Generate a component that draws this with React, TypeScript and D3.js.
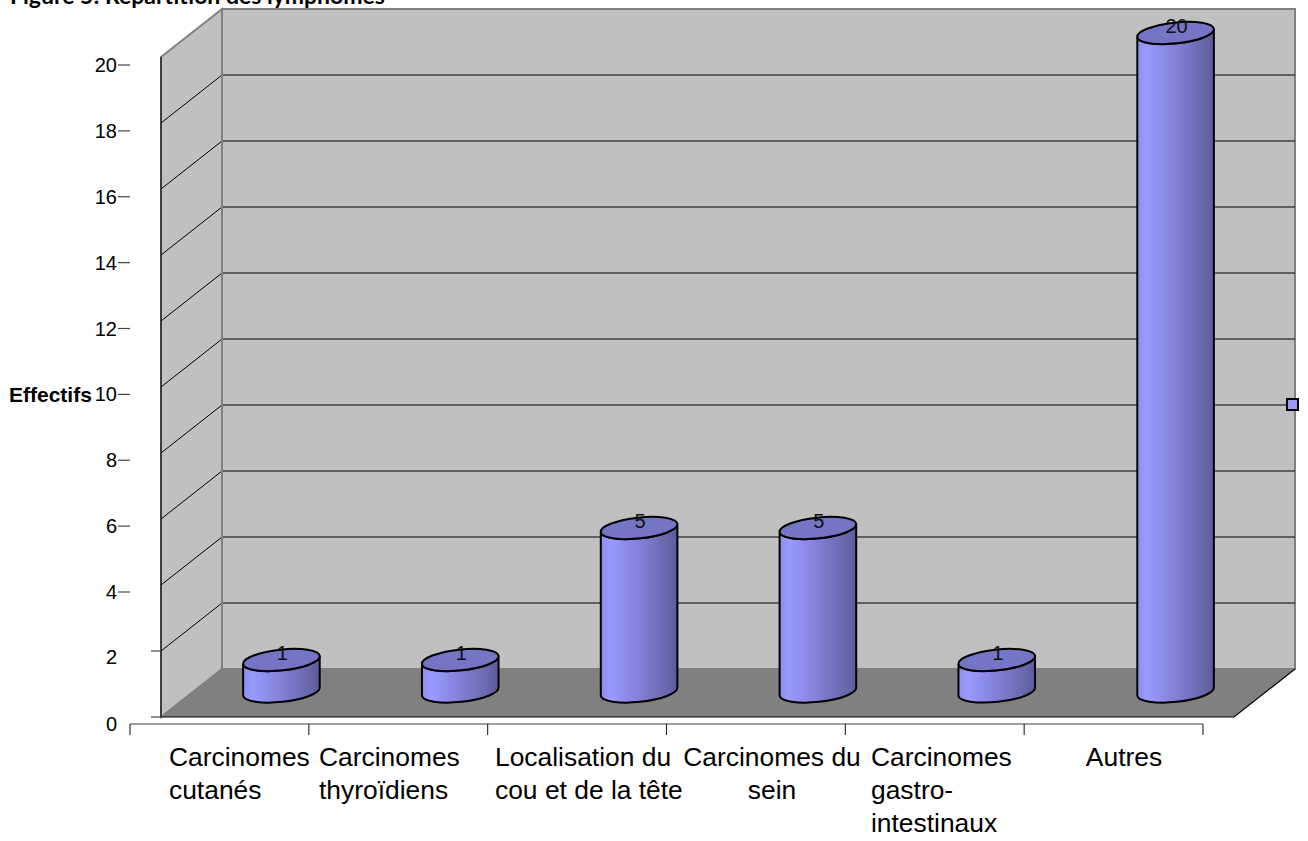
import React from "react";
import * as d3 from "d3";

const categories = ["Carcinomes cutanés", "Carcinomes thyroïdiens", "Localisation du cou et de la tête", "Carcinomes du sein", "Carcinomes gastro-intestinaux", "Autres"];
const counts = [1, 1, 5, 5, 1, 20];
const categoryLines = [
  ["Carcinomes", "cutanés"],
  ["Carcinomes", "thyroïdiens"],
  ["Localisation du", "cou et de la tête"],
  ["Carcinomes du", "sein"],
  ["Carcinomes", "gastro-", "intestinaux"],
  ["Autres"],
];
const yTicks = [0, 2, 4, 6, 8, 10, 12, 14, 16, 18, 20];
const gridValues = [2, 4, 6, 8, 10, 12, 14, 16, 18];
const titleText = "Figure 5: Répartition des lymphomes";
const yAxisTitle = "Effectifs";

// Per-label placement on the category axis
const labelAnchor = ["start", "start", "start", "middle", "start", "middle"];
const labelX = [169, 319, 495, 772, 871, 1124];

const W = 1308;
const H = 841;
const depthX = 61;
const depthY = 48;
const wallLeft = 161 + depthX;
const wallRight = 1295;
const rx = 38.5;
const ry = 10.4;
const tilt = -6;

export default function App() {
  const backY = d3.scaleLinear().domain([0, 20]).range([669, 9]);
  const frontY = (v: number) => backY(v) + depthY;
  const barY = d3.scaleLinear().domain([0, 20]).range([693, 33]);
  const tickY = d3.scaleLinear().domain([0, 2, 4, 20]).range([717, 651, 592, 65]);
  const tickLabelY = d3.scaleLinear().domain([0, 2, 4, 20]).range([724, 657, 592, 65]);
  const x = d3.scaleBand<number>().domain(d3.range(categories.length)).range([130, 1203]);
  const rad = (tilt * Math.PI) / 180;
  const dx = rx * Math.cos(rad);
  const dy = rx * Math.sin(rad);

  const bottomEdge = frontY(0);
  const wallPath = d3.path();
  wallPath.moveTo(wallLeft - depthX, frontY(20));
  wallPath.lineTo(wallLeft, backY(20));
  wallPath.lineTo(wallLeft, backY(0));
  wallPath.lineTo(wallLeft - depthX, bottomEdge);
  wallPath.closePath();

  return (
    <svg width={W} height={H} style={{ position: "absolute", left: 0, top: 0, fontFamily: "'Liberation Sans', Arial, sans-serif" }}>
      <defs>
        <linearGradient id="cyl" x1="0" x2="1" y1="0" y2="0">
          <stop offset="0" stopColor="#8d8dec" />
          <stop offset="0.12" stopColor="#9a9aff" />
          <stop offset="0.45" stopColor="#8484dc" />
          <stop offset="0.8" stopColor="#6c6cb4" />
          <stop offset="1" stopColor="#5c5c9a" />
        </linearGradient>
      </defs>

      <text x={10} y={4} fontFamily="Lato, sans-serif" fontWeight={700} fontSize={23}>{titleText}</text>

      {/* walls and floor */}
      <rect x={wallLeft} y={backY(20)} width={wallRight - wallLeft} height={backY(0) - backY(20)} fill="#c0c0c0" stroke="#808080" strokeWidth={2} />
      <path d={wallPath.toString()} fill="#c0c0c0" stroke="#808080" strokeWidth={2} />
      <path
        d={`M${wallLeft - depthX},${bottomEdge}L${wallLeft},${backY(0)}L${wallRight},${backY(0)}L${wallRight - depthX},${bottomEdge}Z`}
        fill="#808080"
      />
      <path d={`M${wallLeft - depthX},${bottomEdge}L${wallRight - depthX},${bottomEdge}L${wallRight},${backY(0)}`} fill="none" stroke="#000" strokeWidth={1.2} />
      <line x1={wallLeft - depthX} x2={wallLeft - depthX} y1={frontY(20)} y2={bottomEdge} stroke="#222" strokeWidth={1.4} />

      {/* gridlines across both walls */}
      {gridValues.map((v) => (
        <path key={v} d={`M${wallLeft - depthX},${frontY(v)}L${wallLeft},${backY(v)}L${wallRight},${backY(v)}`} fill="none" stroke="#000" strokeWidth={1} />
      ))}
      <line x1={wallLeft} x2={wallLeft} y1={backY(20)} y2={backY(0)} stroke="#808080" strokeWidth={2} />

      {/* value axis */}
      {yTicks.map((v) => {
        const low = v < 4;
        return (
          <g key={v}>
            <line x1={low ? 151 : 118} x2={low ? 161 : 130} y1={tickY(v)} y2={tickY(v)} stroke="#444" strokeWidth={1.2} />
            <text x={117} y={tickLabelY(v)} textAnchor="end" dominantBaseline="central" fontSize={20} fill="#000">{v}</text>
          </g>
        );
      })}
      <text x={9} y={394} dominantBaseline="central" fontSize={21} fontWeight={700}>{yAxisTitle}</text>

      {/* category axis */}
      <line x1={130} x2={1203} y1={724} y2={724} stroke="#808080" strokeWidth={1.6} />
      {d3.range(categories.length + 1).map((i) => {
        const px = i < categories.length ? x(i)! : x(i - 1)! + x.bandwidth();
        return <line key={i} x1={px} x2={px} y1={724} y2={735} stroke="#222" strokeWidth={1.1} />;
      })}
      {categoryLines.map((lines, i) => (
        <text key={i} fontSize={26.4} fill="#000" textAnchor={labelAnchor[i]}>
          {lines.map((s, j) => (
            <tspan key={j} x={labelX[i]} y={765.5 + j * 33}>{s}</tspan>
          ))}
        </text>
      ))}

      {/* cylinders */}
      {counts.map((v, i) => {
        const cx = x(i)! + x.bandwidth() / 2 + depthX + 1;
        const top = barY(v);
        const base = barY(0) - 1.5;
        const body = `M${cx - dx},${top - dy}L${cx - dx},${base - dy}A${rx},${ry},${tilt},0,0,${cx + dx},${base + dy}L${cx + dx},${top + dy}A${rx},${ry},${tilt},0,1,${cx - dx},${top - dy}Z`;
        return (
          <g key={i}>
            <path d={body} fill="url(#cyl)" stroke="#000" strokeWidth={2} />
            <ellipse cx={cx} cy={top} rx={rx} ry={ry} transform={`rotate(${tilt} ${cx} ${top})`} fill="#7575c6" stroke="#000" strokeWidth={2} />
            <text x={cx + 1} y={top - 7} textAnchor="middle" dominantBaseline="central" fontSize={20} fill="#111">{v}</text>
          </g>
        );
      })}

      {/* legend key at the wall edge */}
      <rect x={1287} y={399} width={11} height={11} fill="#9999ff" stroke="#000" strokeWidth={2} />
    </svg>
  );
}
